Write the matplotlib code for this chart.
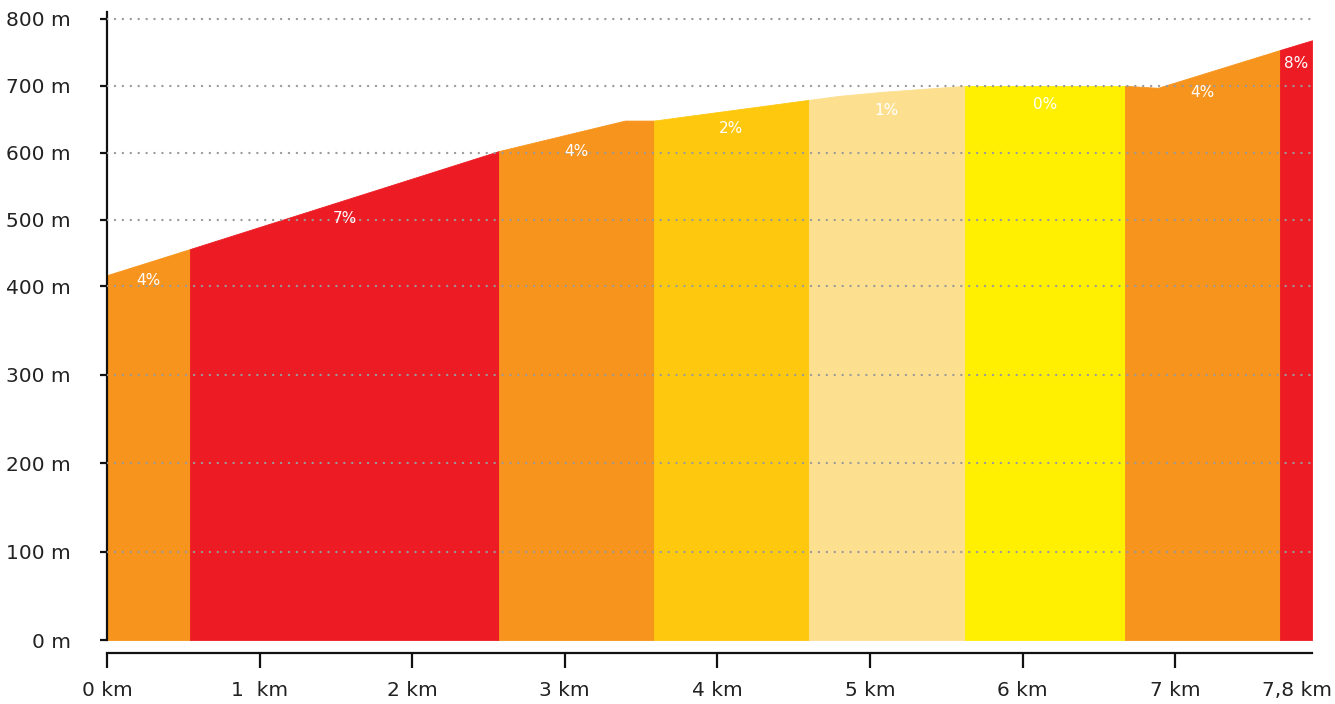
import numpy as np
import matplotlib
matplotlib.use("Agg")
import matplotlib.pyplot as plt

# ---- data ----
profile_km = [0.0, 0.544, 2.569, 3.394, 3.585, 4.600, 4.80, 5.066, 5.622, 6.671, 6.887, 7.687, 7.897]
profile_m = [417, 456, 602.5, 648, 648, 679, 685, 690.7, 700, 700, 697, 753.5, 768]

segment_edges_km = [0.0, 0.544, 2.569, 3.585, 4.600, 5.622, 6.671, 7.687, 7.897]
segment_grades = ["4%", "7%", "4%", "2%", "1%", "0%", "4%", "8%"]
segment_colors = ["#F7941D", "#ED1C24", "#F7941D", "#FEC80F", "#FDDF90", "#FFEF00", "#F7941D", "#ED1C24"]

x_ticks = [0, 1, 2, 3, 4, 5, 6, 7, 7.8]
x_tick_labels = ["0 km", "1  km", "2 km", "3 km", "4 km", "5 km", "6 km", "7 km", "7,8 km"]
y_ticks = [0, 100, 200, 300, 400, 500, 600, 700, 800]
y_tick_labels = ["0 m", "100 m", "200 m", "300 m", "400 m", "500 m", "600 m", "700 m", "800 m"]

# ---- scale: compressed above 400 m ----
K = 0.757
def fwd(y):
    y = np.asarray(y, dtype=float)
    return np.where(y <= 400, y, 400 + (y - 400) * K)
def inv(u):
    u = np.asarray(u, dtype=float)
    return np.where(u <= 400, u, 400 + (u - 400) / K)

fig = plt.figure(figsize=(13.35, 7.04), dpi=100)
ax = fig.add_axes([107/1335, (704-640)/704, (1312-107)/1335, (640-12.2)/704])
ax.set_yscale('function', functions=(fwd, inv))

pk = np.array(profile_km)
pm = np.array(profile_m)
for i in range(len(segment_grades)):
    a, b = segment_edges_km[i], segment_edges_km[i+1]
    inner = pk[(pk > a) & (pk < b)]
    xs = np.concatenate([[a], inner, [b]])
    ys = np.interp(xs, pk, pm)
    ax.fill_between(xs, 0, ys, color=segment_colors[i], linewidth=0.6,
                    edgecolor=segment_colors[i], zorder=1)
    mid = (a + b) / 2
    ax.annotate(segment_grades[i], xy=(mid, np.interp(mid, pk, pm)),
                xytext=(0, -13.5), textcoords='offset points',
                ha='center', va='center', color='white', fontsize=11, zorder=4)

ax.set_xlim(0, 7.897)
ax.set_ylim(0, 810)

for yv in y_ticks[1:]:
    ax.axhline(yv, color='#9a9a9a', linewidth=1.7, linestyle=(0, (0.05, 3.3)),
               dash_capstyle='round', zorder=3)

ax.set_yticks(y_ticks)
ax.set_yticklabels(y_tick_labels)
ax.set_xticks(x_ticks)
ax.set_xticklabels(x_tick_labels)
ax.yaxis.set_minor_locator(matplotlib.ticker.NullLocator())

for s in ['top', 'right']:
    ax.spines[s].set_visible(False)
ax.spines['left'].set_linewidth(1.6)
ax.spines['bottom'].set_linewidth(1.6)
ax.spines['bottom'].set_position(('outward', 9))
ax.spines['left'].set_color('#111111')
ax.spines['bottom'].set_color('#111111')

ax.tick_params(axis='y', length=5, width=1.6, pad=21, labelsize=14.5, colors='#111111', labelcolor='#222222')
ax.tick_params(axis='x', length=10.5, width=1.6, pad=10, labelsize=14.5, colors='#111111', labelcolor='#222222')
ax.xaxis.get_major_ticks()[-1].tick1line.set_visible(False)

for t in ax.get_yticklabels() + ax.get_xticklabels():
    t.set_fontfamily('DejaVu Sans')

fig.savefig("out.png", dpi=100)
